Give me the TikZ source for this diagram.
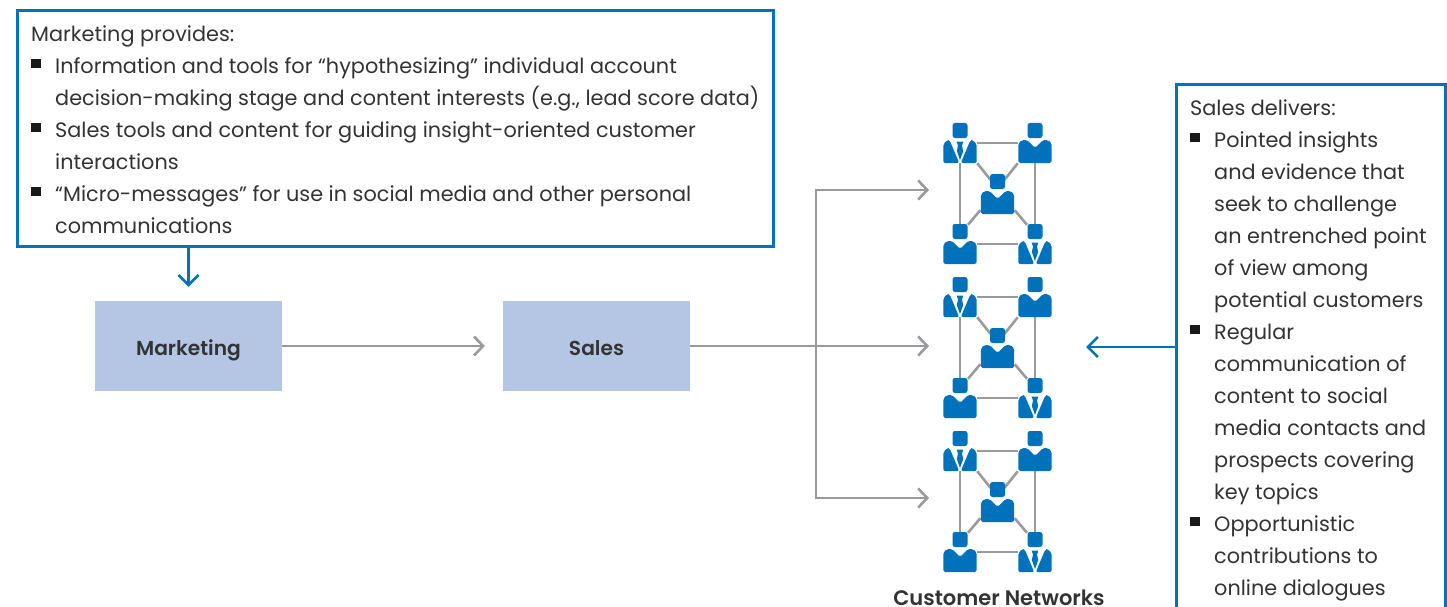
\documentclass[tikz,border=0pt]{standalone}
\usepackage{fontspec}
\setmainfont{Poppins}
\newfontfamily\semibd{Poppins SemiBold}
\usetikzlibrary{arrows.meta,calc}
\definecolor{bluel}{HTML}{0072BC}
\definecolor{grayl}{HTML}{9A9A9E}
\definecolor{boxf}{HTML}{B4C6E4}
\definecolor{txt}{HTML}{333333}
\tikzset{
 x=1pt,y=-1pt,
 txtline/.style={anchor=base west,inner sep=0pt,yshift=-0.7pt,text=txt,font=\fontsize{20.8}{24}\selectfont},
 frame/.style={draw=bluel,line width=3pt},
 bluearrow/.style={draw=bluel,line width=2.6pt,-{Straight Barb[length=10pt,width=20pt,line width=2.6pt]}},
 grayarrow/.style={draw=grayl,line width=2.6pt,-{Straight Barb[length=9pt,width=19pt,line width=2.6pt]}},
 link/.style={draw=grayl,line width=2.6pt},
 stagebox/.style={fill=boxf,minimum width=187pt,minimum height=90pt,inner sep=0pt,text=txt,text height=18pt,text depth=0pt,font=\fontsize{20.2}{24}\semibd},
 person/.style={minimum width=34pt,minimum height=40pt,inner sep=0pt},
 bullet/.style={fill=black!90,minimum width=10pt,minimum height=9pt,inner sep=0pt,anchor=north west},
 suit/.pic={
  \fill[bluel,rounded corners=2.5pt] (-7.5,-20) rectangle (7.5,-5);
  \fill[bluel,rounded corners=2pt] (-16.7,1)--(-12.5,-3)--(-10.5,-3)--(-0.8,20)--(-16.7,20)--cycle;
  \fill[bluel,rounded corners=2pt] (16.7,1)--(12.5,-3)--(10.5,-3)--(0.8,20)--(16.7,20)--cycle;
  \fill[bluel] (-3.4,-1.5)--(3.4,-1.5)--(2,2.5)--(3.2,8)--(0,17)--(-3.2,8)--(-2,2.5)--cycle;
 },
 plain/.pic={
  \fill[bluel,rounded corners=2.5pt] (-7.5,-20) rectangle (7.5,-5);
  \fill[bluel,rounded corners=1.8pt] (-16.7,0.5)--(-13,-3)--(-8,-3)--(0,5)--(8,-3)--(13,-3)--(16.7,0.5)--(16.7,20)--(-16.7,20)--cycle;
 },
}
\begin{document}
\begin{tikzpicture}
\useasboundingbox (0,0) rectangle (1447,607);
\clip (0,0) rectangle (1447,607);
% marketing box
\node[frame,minimum width=756pt,minimum height=235pt,inner sep=0pt] (mbox) at (395,128.5) {};
\node[txtline] (m0) at (31,41) {Marketing provides:};
\node[bullet] (mb1) at (31,59) {};
\node[txtline] (m1) at (55,73) {Information and tools for “hypothesizing” individual account};
\node[txtline] (m2) at (55,105) {decision-making stage and content interests (e.g., lead score data)};
\node[bullet] (mb2) at (31,123) {};
\node[txtline] (m3) at (55,137) {Sales tools and content for guiding insight-oriented customer};
\node[txtline] (m4) at (55,169) {interactions};
\node[bullet] (mb3) at (31,187) {};
\node[txtline] (m5) at (55,201) {“Micro-messages” for use in social media and other personal};
\node[txtline] (m6) at (55,233) {communications};
% stage boxes
\node[stagebox] (marketing) at (188.5,346) {Marketing};
\node[stagebox] (sales) at (596.5,346) {Sales};
\draw[bluearrow] (mbox.south -| marketing) -- ([yshift=14pt]marketing.north);
\draw[grayarrow] (marketing.east) -- ([xshift=-18pt]sales.west);
% targets
\coordinate (in1) at (929,190);
\coordinate (in2) at (929,346);
\coordinate (in3) at (929,498);
\coordinate (branch) at (816,346);
\draw[grayarrow] (sales.east) -- (in2);
\draw[grayarrow] (branch) |- (in1);
\draw[grayarrow] (branch) |- (in3);
% networks
\foreach \s/\d in {1/0,2/154,3/308}{
 \node[person] (tl\s) at (960,143+\d) {};
 \node[person] (tr\s) at (1035,143+\d) {};
 \node[person] (ce\s) at (997.5,194+\d) {};
 \node[person] (bl\s) at (960,244+\d) {};
 \node[person] (br\s) at (1035,244+\d) {};
 \draw[link] (tl\s.east) -- (tr\s.west);
 \draw[link] (bl\s.east) -- (br\s.west);
 \draw[link] (tl\s.south) -- (bl\s.north);
 \draw[link] (tr\s.south) -- (br\s.north);
 \draw[link] (tl\s.south east) -- ([shift={(-7,6)}]ce\s.north);
 \draw[link] (tr\s.south west) -- ([shift={(7,6)}]ce\s.north);
 \draw[link] (ce\s.south west) ++(0,-4) -- ([shift={(8,1)}]bl\s.north);
 \draw[link] (ce\s.south east) ++(0,-4) -- ([shift={(-8,1)}]br\s.north);
 \pic at (tl\s) {suit};
 \pic at (tr\s) {plain};
 \pic at (ce\s) {plain};
 \pic at (bl\s) {plain};
 \pic at (br\s) {suit};
}
\node[anchor=base,inner sep=0pt,text=txt,text depth=0pt,font=\fontsize{21}{24}\semibd] (cn) at (999,605.5) {Customer Networks};
% sales box
\coordinate (rbl) at (1176,612);
\coordinate (rtl) at (1176,85);
\coordinate (rtr) at (1445,85);
\coordinate (rbr) at (1445,612);
\draw[frame] (rbl) -- (rtl) -- (rtr) -- (rbr);
\coordinate (rout) at (1176,347);
\coordinate (rin) at (1086,347);
\draw[bluearrow] (rout) -- (rin);
\node[txtline] (s0) at (1190,115) {Sales delivers:};
\node[bullet] (sb1) at (1190,133) {};
\node[txtline] (s1) at (1214,147) {Pointed insights};
\node[txtline] (s2) at (1214,179) {and evidence that};
\node[txtline] (s3) at (1214,211) {seek to challenge};
\node[txtline] (s4) at (1214,243) {an entrenched point};
\node[txtline] (s5) at (1214,275) {of view among};
\node[txtline] (s6) at (1214,307) {potential customers};
\node[bullet] (sb2) at (1190,325) {};
\node[txtline] (s7) at (1214,339) {Regular};
\node[txtline] (s8) at (1214,371) {communication of};
\node[txtline] (s9) at (1214,403) {content to social};
\node[txtline] (s10) at (1214,435) {media contacts and};
\node[txtline] (s11) at (1214,467) {prospects covering};
\node[txtline] (s12) at (1214,499) {key topics};
\node[bullet] (sb3) at (1190,517) {};
\node[txtline] (s13) at (1214,531) {Opportunistic};
\node[txtline] (s14) at (1214,563) {contributions to};
\node[txtline] (s15) at (1214,595) {online dialogues};
\end{tikzpicture}
\end{document}
